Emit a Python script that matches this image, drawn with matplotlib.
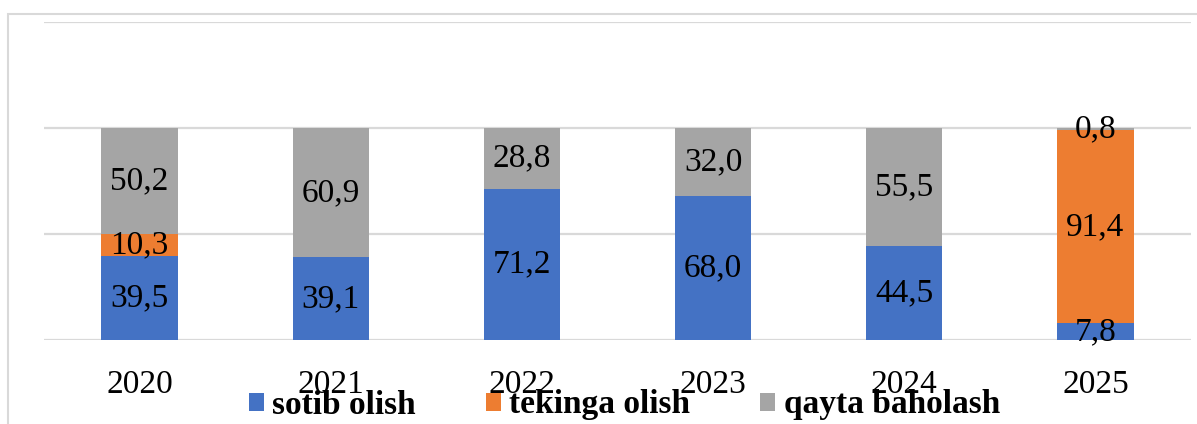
import matplotlib
matplotlib.use("Agg")
import matplotlib.pyplot as plt
from matplotlib.patches import Rectangle

years = ["2020", "2021", "2022", "2023", "2024", "2025"]
sotib = [39.5, 39.1, 71.2, 68.0, 44.5, 7.8]
tekinga = [10.3, 0.0, 0.0, 0.0, 0.0, 91.4]
qayta = [50.2, 60.9, 28.8, 32.0, 55.5, 0.8]
series_names = ["sotib olish", "tekinga olish", "qayta baholash"]
colors = ["#4472C4", "#ED7D31", "#A5A5A5"]

plt.rcParams['font.family'] = ['Liberation Serif', 'DejaVu Serif']

W, H = 1197, 424
fig = plt.figure(figsize=(W / 100, H / 100), dpi=100)
ax = fig.add_axes([44 / W, 1 - 340 / H, (1191 - 44) / W, (340 - 22) / H])

x = list(range(len(years)))
bottom = [0.0] * len(years)
for vals, name, col in zip([sotib, tekinga, qayta], series_names, colors):
    ax.bar(x, vals, width=0.4, bottom=bottom, color=col, label=name, zorder=3)
    for xi, v, b in zip(x, vals, bottom):
        if v > 0:
            ax.text(xi, b + v / 2, f"{v:.1f}".replace(".", ","), ha="center", va="center",
                    fontsize=24, color="black", zorder=4)
    bottom = [b + v for b, v in zip(bottom, vals)]

ax.set_xlim(-0.5, 5.5)
ax.set_ylim(0, 150)
ax.set_yticks([0, 50, 100, 150])
ax.yaxis.grid(True, color="#D9D9D9", linewidth=1.6, zorder=0)
ax.tick_params(axis="y", left=False, labelleft=False)
ax.tick_params(axis="x", bottom=False, pad=18, labelsize=24)
ax.set_xticks(x)
ax.set_xticklabels(years)
for s in ax.spines.values():
    s.set_visible(False)

leg = fig.legend(loc="center", bbox_to_anchor=(624.5 / W, 1 - 405 / H), ncol=3, frameon=False,
                 prop={"size": 24, "weight": "bold"}, handlelength=0.45, handleheight=0.45,
                 handletextpad=0.25, columnspacing=2.1, borderpad=0, borderaxespad=0)

fig.patches.append(Rectangle((8 / W, -0.1), 1.2, 1 - 14 / H + 0.1, transform=fig.transFigure,
                             fill=False, edgecolor="#D9D9D9", linewidth=1.5, zorder=0))

fig.savefig("out.png", dpi=100)
